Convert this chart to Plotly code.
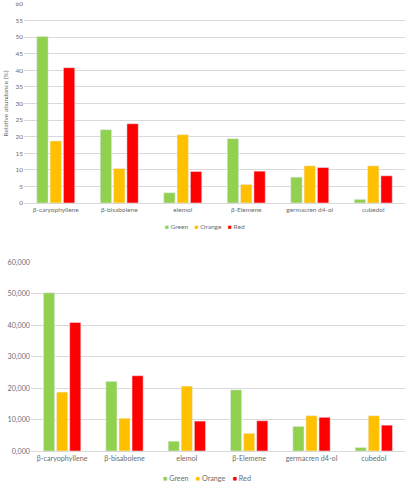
import plotly.graph_objects as go

# data
compounds = ["β-caryophyllene", "β-bisabolene", "elemol", "β-Elemene", "germacren d4-ol", "cubedol"]
series = ["Green", "Orange", "Red"]
green = [50.2, 22.1, 3.1, 19.4, 7.8, 1.1]
orange = [18.7, 10.4, 20.6, 5.6, 11.2, 11.2]
red = [40.8, 23.9, 9.5, 9.6, 10.7, 8.2]

green_abs = [50200, 22100, 3100, 19400, 7800, 1100]
orange_abs = [18700, 10400, 20600, 5600, 11200, 11200]
red_abs = [40800, 23900, 9500, 9600, 10700, 8200]

abs_tickvals = [0, 10000, 20000, 30000, 40000, 50000, 60000]
abs_ticktext = ["0,000", "10,000", "20,000", "30,000", "40,000", "50,000", "60,000"]

colors = {"Green": "#92D050", "Orange": "#FFC000", "Red": "#FF0000"}
FONT = "Lato, 'Open Sans', sans-serif"
GREY = "#6E6E6E"
GRID = "#D9D9D9"

fig = go.Figure()

# top chart: relative abundance
for name, vals in zip(series, [green, orange, red]):
    fig.add_trace(go.Bar(x=compounds, y=vals, name=name, marker_color=colors[name],
                         xaxis="x", yaxis="y", showlegend=False))

# bottom chart: absolute values
for name, vals in zip(series, [green_abs, orange_abs, red_abs]):
    fig.add_trace(go.Bar(x=compounds, y=vals, name=name, marker_color=colors[name],
                         xaxis="x2", yaxis="y2", showlegend=False))

H = 483
W = 407

# excel-style legends: small coloured squares + names
legend_text = "&nbsp;&nbsp;&nbsp;&nbsp;".join(
    f"<span style='color:{colors[s]}'>■</span>&nbsp;{s}" for s in series
)

fig.update_layout(
    width=W, height=H,
    margin=dict(l=0, r=0, t=0, b=0),
    paper_bgcolor="white", plot_bgcolor="white",
    font=dict(family=FONT, color=GREY, size=7),
    barmode="group",
    bargap=0.37, bargroupgap=0.15,
    xaxis=dict(domain=[24 / W, 405 / W], anchor="y", showgrid=False, automargin=False,
               showline=True, linecolor=GRID, ticks="", tickfont=dict(size=6.5)),
    yaxis=dict(domain=[1 - 203 / H, 1 - 4 / H], anchor="x", range=[0, 60], dtick=5,
               showgrid=True, gridcolor=GRID, zeroline=False, ticks="", automargin=False,
               ticklabeloverflow="allow", tickfont=dict(size=6.5),
               title=dict(text="Relative abundance (%)", font=dict(size=6.5), standoff=6)),
    xaxis2=dict(domain=[31 / W, 405 / W], anchor="y2", showgrid=False, automargin=False,
                showline=True, linecolor=GRID, ticks="", tickfont=dict(size=7.2)),
    yaxis2=dict(domain=[1 - 451 / H, 1 - 262 / H], anchor="x2", range=[0, 60000],
                tickvals=abs_tickvals, ticktext=abs_ticktext, automargin=False,
                showgrid=True, gridcolor=GRID, zeroline=False, ticks="",
                tickfont=dict(size=7.2)),
    annotations=[
        dict(text=legend_text, x=205 / W, y=1 - 227 / H, xref="paper", yref="paper",
             showarrow=False, xanchor="center", yanchor="middle", font=dict(size=6.5)),
        dict(text=legend_text, x=207 / W, y=1 - 478 / H, xref="paper", yref="paper",
             showarrow=False, xanchor="center", yanchor="middle", font=dict(size=7.2)),
    ],
)

# drop the default page margin so the figure sits at the window's top-left corner
fig.write_html("out.html", config={"displayModeBar": False},
               post_script="document.body.style.margin='0';")
